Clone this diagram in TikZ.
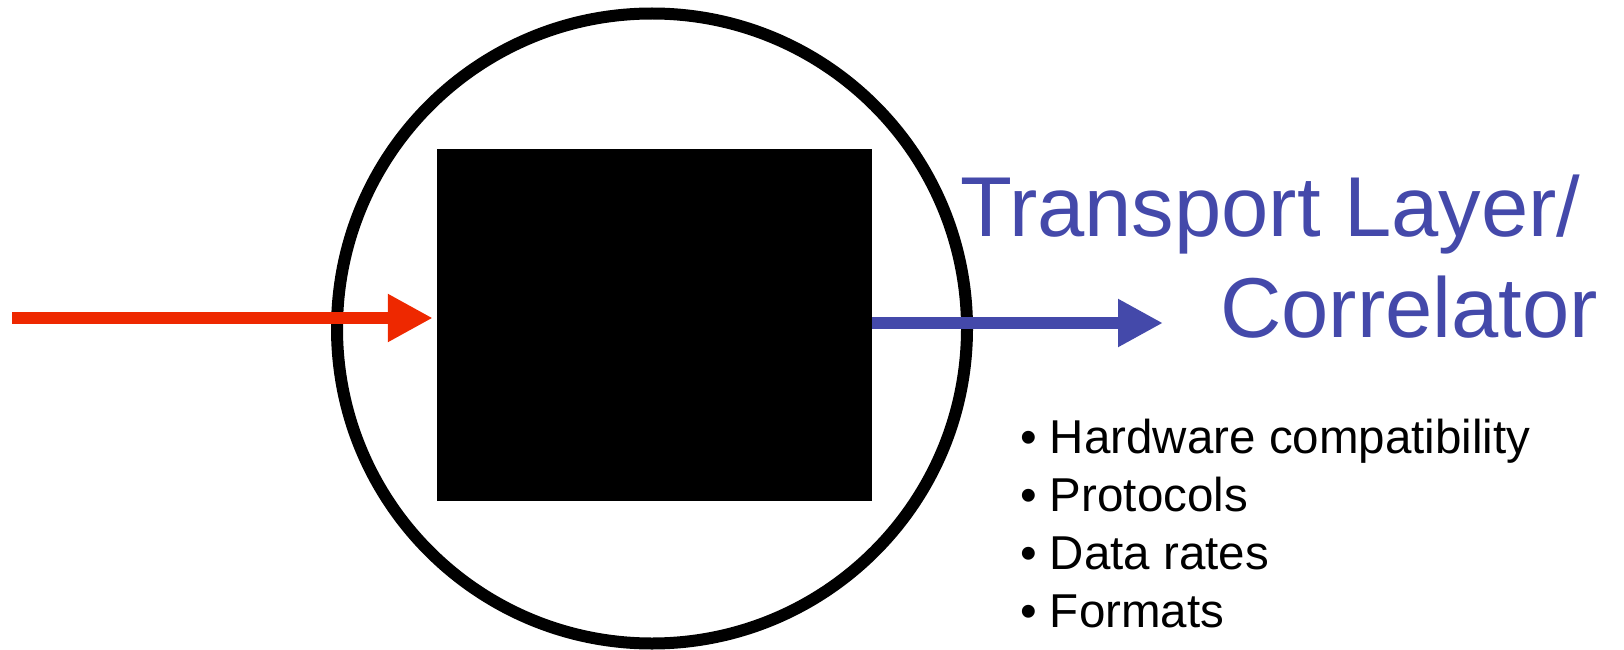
\documentclass[tikz,border=0pt]{standalone}
\usepackage{fontspec}
\setmainfont{Liberation Sans}
\usetikzlibrary{arrows.meta,calc}
\definecolor{inred}{RGB}{238,40,0}
\definecolor{outblue}{RGB}{68,73,170}
\tikzset{
  ringstyle/.style={circle,draw=black,line width=12pt,minimum size=630pt,inner sep=0pt},
  boxstyle/.style={rectangle,fill=black,minimum width=435pt,minimum height=352pt,inner sep=0pt},
  inarrow/.style={draw=inred,line width=12pt,-{Triangle[length=45pt,width=45pt]}},
  outarrow/.style={draw=outblue,line width=12pt,-{Triangle[length=45pt,width=45pt]}},
  titletext/.style={anchor=base west,inner sep=0pt,text=outblue,font=\fontsize{85}{101}\selectfont},
  bullettext/.style={anchor=base west,inner sep=0pt,text=black,font=\fontsize{47.5}{56}\selectfont}
}
\begin{document}
\begin{tikzpicture}[x=1pt,y=-1pt]
\useasboundingbox (0,0) rectangle (1624,650);
\node[ringstyle] (ring) at (652,328.5) {};
\node[boxstyle] (box) at (654.5,325) {};
\coordinate (rs) at (12,318);
\coordinate (be) at (1163,323);
\draw[inarrow,shorten >=4pt] (rs) -- (rs -| box.west);
\draw[outarrow] (be -| box.east) -- (be);
\node[titletext] (t1) at (960,236) {Transport Layer/};
\node[titletext] (t2) at (1220,337) {Correlator};
\node[bullettext] (b1) at (1020,453) {• Hardware compatibility};
\node[bullettext] (b2) at (1020,511) {• Protocols};
\node[bullettext] (b3) at (1020,569) {• Data rates};
\node[bullettext] (b4) at (1020,627) {• Formats};
\end{tikzpicture}
\end{document}
